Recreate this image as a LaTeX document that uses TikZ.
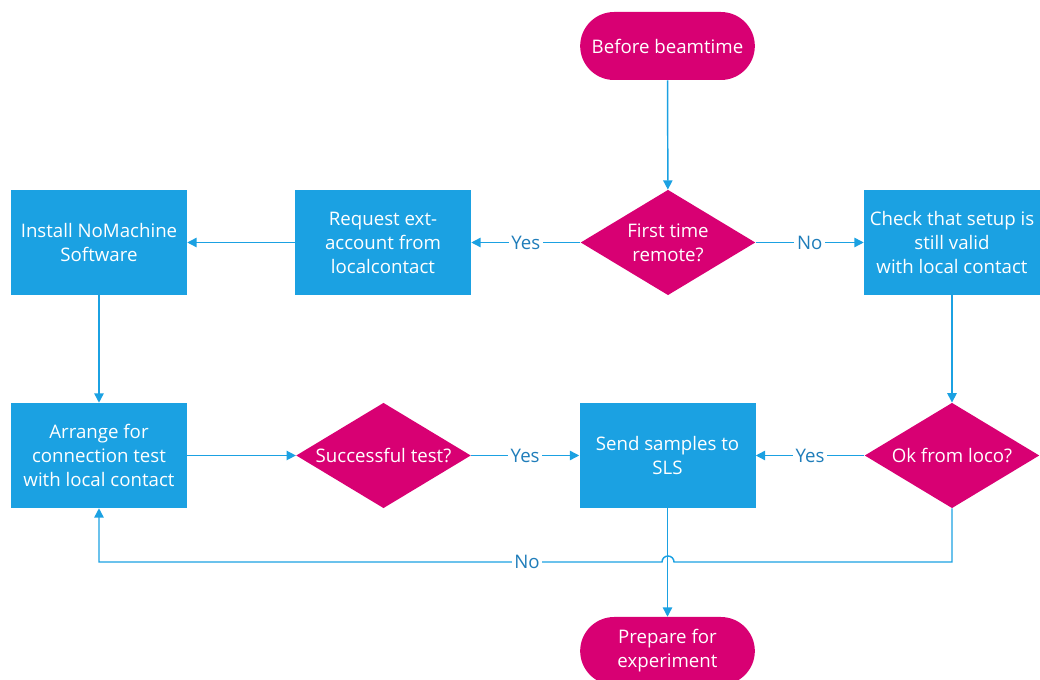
\documentclass[tikz,border=0pt]{standalone}
\usepackage{fontspec}
\setmainfont{Open Sans}
\usetikzlibrary{shapes.geometric,arrows.meta}
\definecolor{boxblue}{HTML}{1BA1E2}
\definecolor{linkblue}{HTML}{1BA1E2}
\definecolor{magentafill}{HTML}{D80073}
\definecolor{labelblue}{HTML}{1F7DBA}
\tikzset{
  procbox/.style={rectangle, fill=boxblue, text=white, minimum width=132pt, minimum height=78.75pt, inner sep=0pt, align=center, font=\fontsize{14}{18}\selectfont},
  decide/.style={diamond, fill=magentafill, text=white, minimum width=131pt, minimum height=79pt, inner sep=0pt, aspect=1.66, align=center, font=\fontsize{14}{18}\selectfont},
  pill/.style={rectangle, rounded corners=25.5pt, fill=magentafill, text=white, minimum width=131pt, minimum height=51pt, inner sep=0pt, align=center, font=\fontsize{14}{18}\selectfont},
  link/.style={draw=linkblue, line width=1.1pt, -{Triangle[length=7pt,width=7pt]}},
  linklabel/.style={fill=white, text=labelblue, inner sep=2pt, font=\fontsize{14}{16}\selectfont}
}
\begin{document}
\begin{tikzpicture}[x=0.75pt,y=-0.75pt]
\useasboundingbox (0,0) rectangle (1040,680);
\node[pill] (before) at (667.5,46) {Before beamtime};
\node[decide] (first) at (668,242.5) {First time\\remote?};
\node[procbox] (request) at (383,242.5) {Request ext-\\account from\\localcontact};
\node[procbox] (install) at (99,242.5) {Install NoMachine\\Software};
\node[procbox] (check) at (952,242.5) {Check that setup is\\still valid\\with local contact};
\node[procbox] (arrange) at (99,455.5) {Arrange for\\connection test\\with local contact};
\node[decide] (success) at (383.5,455.5) {Successful test?};
\node[procbox] (send) at (667.5,455.5) {Send samples to\\SLS};
\node[decide] (ok) at (952,455.5) {Ok from loco?};
\node[pill] (prepare) at (667.5,651) {Prepare for\\experiment};

\coordinate (c1) at (952,562);
\coordinate (c2) at (99,562);
\coordinate (jr) at (674,562);

\draw[link] (before) -- (first);
\draw[link] (first) -- node[linklabel] {Yes} (request);
\draw[link] (request) -- (install);
\draw[link] (first) -- node[linklabel] {No} (check);
\draw[link] (install) -- (arrange);
\draw[link] (check) -- (ok);
\draw[link] (arrange) -- (success);
\draw[link] (success) -- node[linklabel] {Yes} (send);
\draw[link] (ok) -- node[linklabel] {Yes} (send);
\draw[link] (send) -- (prepare);
\draw[link] (ok.south) -- (c1) -- (jr) arc[start angle=0, end angle=180, radius=4.5pt] -- (c2) -- (arrange.south);
\node[linklabel] (nolabel) at (527,562) {No};
\end{tikzpicture}
\end{document}
